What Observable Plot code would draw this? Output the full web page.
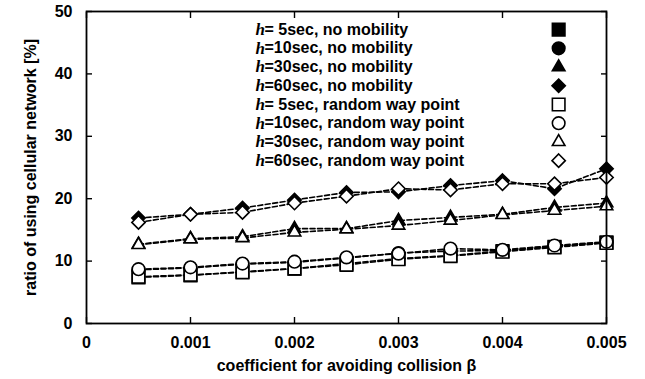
<!DOCTYPE html>
<html><head><meta charset="utf-8">
<script src="https://cdn.jsdelivr.net/npm/d3@7"></script>
<script src="https://cdn.jsdelivr.net/npm/@observablehq/plot@0.6"></script>
<style>
body{margin:0;background:#fff}
svg{font-family:"Liberation Sans",Arial,Helvetica,sans-serif}
</style>
</head><body><div id="chart"></div>
<script>
const betas = [0.0005, 0.001, 0.0015, 0.002, 0.0025, 0.003, 0.0035, 0.004, 0.0045, 0.005];
const seriesNames = [
  "= 5sec, no mobility",
  "=10sec, no mobility",
  "=30sec, no mobility",
  "=60sec, no mobility",
  "= 5sec, random way point",
  "=10sec, random way point",
  "=30sec, random way point",
  "=60sec, random way point"
];
const seriesSymbols = ["square2", "circle", "triangle2", "diamond2", "square2", "circle", "triangle2", "diamond2"];
const seriesFilled = [true, true, true, true, false, false, false, false];

const h5NoMobility  = [7.4, 7.7, 8.3, 8.8, 9.6, 10.4, 10.9, 11.6, 12.3, 13.0];
const h10NoMobility = [8.6, 8.9, 9.5, 9.8, 10.5, 11.3, 11.6, 11.7, 12.4, 13.0];
const h30NoMobility = [12.7, 13.6, 13.9, 15.2, 15.2, 16.5, 17.0, 17.5, 18.6, 19.3];
const h60NoMobility = [16.9, 17.5, 18.5, 19.8, 21.0, 21.1, 22.1, 22.9, 21.6, 24.8];
const h5RandomWayPoint  = [7.5, 7.8, 8.2, 8.8, 9.4, 10.3, 10.8, 11.5, 12.2, 12.9];
const h10RandomWayPoint = [8.7, 9.0, 9.6, 9.9, 10.6, 11.2, 12.0, 11.8, 12.5, 13.1];
const h30RandomWayPoint = [12.6, 13.5, 13.7, 14.6, 15.1, 15.7, 16.5, 17.4, 18.1, 18.8];
const h60RandomWayPoint = [16.2, 17.5, 17.8, 19.3, 20.4, 21.6, 21.4, 22.4, 22.4, 23.4];

const xTicks = [0, 0.001, 0.002, 0.003, 0.004, 0.005];
const xTickLabels = ["0", "0.001", "0.002", "0.003", "0.004", "0.005"];
const yTicks = [0, 10, 20, 30, 40, 50];
const yTickLabels = ["0", "10", "20", "30", "40", "50"];

const seriesValues = [h5NoMobility, h10NoMobility, h30NoMobility, h60NoMobility,
  h5RandomWayPoint, h10RandomWayPoint, h30RandomWayPoint, h60RandomWayPoint];

const symbolRadius = {square2: 8, circle: 6.3, triangle2: 6, diamond2: 6};

const seriesData = seriesNames.map((name, i) =>
  betas.map((b, j) => ({series: name, beta: b, ratio: seriesValues[i][j]})));

const legendRows = seriesNames.map((name, i) => ({name, i, y: 47.1 - 3.0 * i}));
const legendTextX = 0.001625;
const legendSymbolX = 0.00454;

const seriesMarks = seriesNames.flatMap((name, i) => [
  Plot.line(seriesData[i], {x: "beta", y: "ratio", stroke: "black", strokeWidth: 1.6, strokeDasharray: "5,2.5"}),
  Plot.dot(seriesData[i], {x: "beta", y: "ratio", symbol: seriesSymbols[i], r: symbolRadius[seriesSymbols[i]],
    fill: seriesFilled[i] ? "black" : "white", stroke: "black", strokeWidth: 1.6})
]);

const legendMarks = [
  Plot.text(legendRows, {x: legendTextX, y: "y", text: () => "h", textAnchor: "start",
    fontFamily: "'Liberation Serif', 'DejaVu Serif', serif", fontStyle: "italic", fontSize: 17, fill: "black"}),
  Plot.text(legendRows, {x: legendTextX, y: "y", text: "name", dx: 9, textAnchor: "start",
    fontSize: 16, fontWeight: "bold", fill: "black"}),
  ...legendRows.map(r => Plot.dot([r], {x: () => legendSymbolX, y: "y", symbol: seriesSymbols[r.i],
    r: symbolRadius[seriesSymbols[r.i]], fill: seriesFilled[r.i] ? "black" : "white", stroke: "black", strokeWidth: 1.6}))
];

const chart = Plot.plot({
  width: 645,
  height: 379,
  marginLeft: 86,
  marginRight: 39,
  marginTop: 11,
  marginBottom: 56,
  style: {fontFamily: "'Liberation Sans', Arial, sans-serif", fontSize: "16px", fontWeight: "bold", color: "black"},
  x: {domain: [0, 0.005]},
  y: {domain: [0, 50]},
  marks: [
    Plot.axisX(xTicks, {anchor: "bottom", tickSize: -6, tickPadding: 19, strokeWidth: 1.4,
      tickFormat: d => xTickLabels[xTicks.indexOf(d)], fontSize: 16, fontWeight: "bold",
      label: "coefficient for avoiding collision β", labelAnchor: "center", labelArrow: "none", labelOffset: 47}),
    Plot.axisX(xTicks, {anchor: "top", tickSize: -6, strokeWidth: 1.4, fill: "none", label: null}),
    Plot.axisY(yTicks, {anchor: "left", tickSize: -6, tickPadding: 20, strokeWidth: 1.4,
      tickFormat: d => yTickLabels[yTicks.indexOf(d)], fontSize: 16, fontWeight: "bold",
      label: "ratio of using cellular network [%]", labelAnchor: "center", labelArrow: "none", labelOffset: 62}),
    Plot.axisY(yTicks, {anchor: "right", tickSize: -6, strokeWidth: 1.4, fill: "none", label: null}),
    ...seriesMarks,
    ...legendMarks,
    Plot.frame({stroke: "black", strokeWidth: 1.8})
  ]
});
document.getElementById("chart").appendChild(chart);
</script>
</body></html>
